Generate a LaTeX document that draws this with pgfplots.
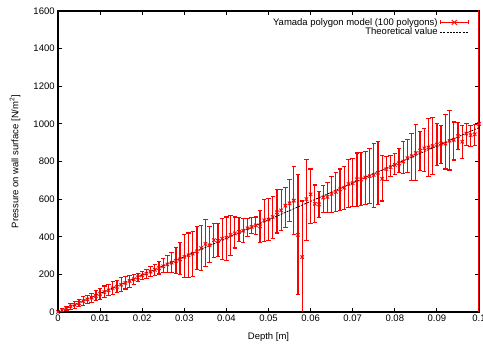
\documentclass[border=0pt]{standalone}
\usepackage{pgfplots}
\pgfplotsset{compat=1.18}
\usepackage{pgfplotstable}
\usepackage{fontspec}
\setmainfont{Liberation Sans}
\pgfplotsset{
  myerrbar/.style={
    error bars/draw error bar/.code 2 args={%
      \draw[red, line width=1.25pt] ##1 -- ##2;
      \draw[red, line width=1.1pt] ##2 ++(-2.2pt,0pt) -- ++(4.4pt,0pt);
    }
  }
}
\pgfplotstableread{
x y em ep
0.000 0 0 0
0.001 10 8 8
0.002 19 10 10
0.003 30 15 15
0.004 38 18 20
0.005 48 20 20
0.006 58 22 22
0.007 67 23 23
0.008 76 24 24
0.009 86 26 26
0.010 96 28 28
0.011 106 30 32
0.012 115 29 30
0.013 126 32 34
0.014 134 30 32
0.015 145 35 37
0.016 155 33 33
0.017 165 33 31
0.018 174 28 26
0.019 184 24 22
0.020 195 23 21
0.021 204 26 24
0.022 214 26 26
0.023 224 28 30
0.024 233 31 35
0.025 243 33 39
0.026 253 43 47
0.027 262 52 56
0.028 272 67 73
0.029 280 80 90
0.030 293 110 117
0.031 302 117 118
0.032 310 120 120
0.033 322 97 133
0.034 340 120 122
0.035 362 122 128
0.036 355 93 100
0.037 382 92 88
0.038 378 83 92
0.039 390 110 105
0.040 395 120 110
0.041 410 110 105
0.042 418 78 87
0.043 425 50 75
0.044 432 62 63
0.045 445 45 50
0.046 452 37 48
0.047 460 50 45
0.048 455 85 85
0.049 488 113 112
0.050 492 112 113
0.051 505 115 110
0.052 530 110 120
0.053 540 105 110
0.054 565 115 95
0.055 578 98 127
0.056 592 182 183
0.057 410 315 320
0.058 292 342 298
0.059 600 220 210
0.060 625 155 135
0.061 575 100 100
0.062 572 72 68
0.063 608 78 64
0.064 612 82 78
0.065 628 98 92
0.066 638 103 102
0.067 652 112 108
0.068 660 115 115
0.069 680 125 130
0.070 685 125 130
0.071 705 145 140
0.072 705 140 145
0.073 715 145 140
0.074 722 147 148
0.075 728 173 167
0.076 740 170 165
0.077 708 118 122
0.078 760 60 65
0.079 770 48 60
0.080 782 52 60
0.081 790 50 80
0.082 800 65 105
0.083 818 78 100
0.084 828 130 122
0.085 845 147 150
0.086 858 108 102
0.087 870 122 105
0.088 875 155 155
0.089 882 152 153
0.090 890 110 110
0.091 895 105 97
0.092 895 135 155
0.093 910 155 160
0.094 915 107 95
0.095 935 73 70
0.096 905 87 85
0.097 948 63 52
0.098 940 58 52
0.099 945 60 50
0.100 1000 1500 1500
}\measured
\begin{document}
\fontsize{9.5}{11}\selectfont
\begin{tikzpicture}
\begin{axis}[
  scale only axis,
  width=421pt, height=301pt,
  xmin=0, xmax=0.1, ymin=0, ymax=1600,
  xtick={0,0.01,...,0.1},
  ytick={0,200,...,1600},
  scaled x ticks=false,
  /pgf/number format/1000 sep={},
  xticklabel style={/pgf/number format/fixed, /pgf/number format/precision=2},
  /pgf/number format/assume math mode=true,
  tick align=inside,
  major tick length=4pt,
  major tick style={black, line width=0.8pt},
  axis line style={line width=1.1pt},
  tick label style={font=\fontsize{9.5}{11}\selectfont},
  xlabel={Depth [m]},
  ylabel={Pressure on wall surface [N/m\textsuperscript{2}]},
  label style={font=\fontsize{9.5}{11}\selectfont},
  xlabel style={at={(axis description cs:0.5,-0.083)}, anchor=center},
  ylabel style={at={(axis description cs:-0.102,0.5)}, anchor=center},
  legend plot pos=right,
  legend cell align=right,
  legend style={at={(1,1)}, anchor=north east, xshift=-9pt, yshift=-4pt,
    draw=none, fill=none, font=\fontsize{9.5}{10}\selectfont,
    row sep=-2.5pt, inner sep=1pt},
]
\addplot[red, line width=1.25pt, only marks, mark=x, mark size=2.4pt,
  mark options={red, solid, line width=0.9pt},
  legend image code/.code={
    \draw[red, line width=1.1pt] (0pt,0pt) -- (28pt,0pt);
    \draw[red, line width=1.1pt] (0pt,-2pt) -- (0pt,2pt) (28pt,-2pt) -- (28pt,2pt);
    \draw[red, line width=0.9pt] (11.5pt,-2.3pt) -- (16.5pt,2.3pt) (11.5pt,2.3pt) -- (16.5pt,-2.3pt);},
  myerrbar,
  error bars/.cd, y dir=both, y explicit]
  table[x=x, y=y, y error minus=em, y error plus=ep] {\measured};
\addlegendentry{Yamada polygon model (100 polygons)}
\addplot[black, dash pattern=on 2pt off 1.2pt, line width=0.8pt,
  legend image code/.code={
    \draw[black, dash pattern=on 2pt off 1.2pt, line width=0.8pt] (0pt,0pt) -- (28pt,0pt);}]
  coordinates {(0,0) (0.1,980)};
\addlegendentry{Theoretical value}
\end{axis}
\pgfresetboundingbox
\useasboundingbox (-58pt,-33pt) rectangle (425pt,312pt);
\end{tikzpicture}
\end{document}
